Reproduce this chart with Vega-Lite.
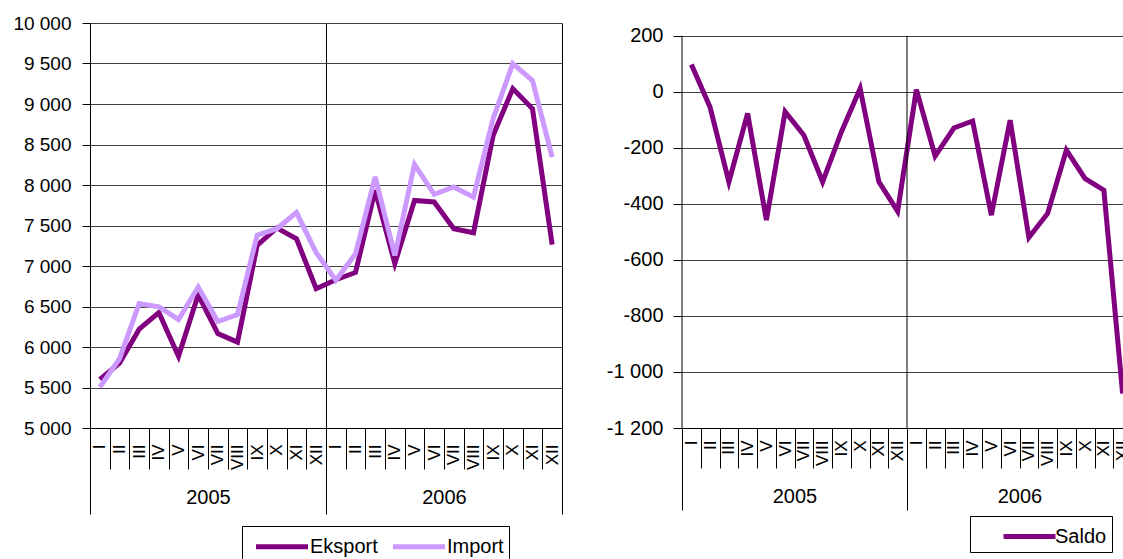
{
  "$schema": "https://vega.github.io/schema/vega-lite/v6.json",
  "padding": {"left": 12, "top": 14, "right": 0, "bottom": 0},
  "spacing": 43,
  "resolve": {"scale": {"color": "independent"}, "legend": {"color": "independent"}},
  "config": {
    "font": "Liberation Sans",
    "view": {"stroke": null},
    "locale": {"number": {"decimal": ",", "thousands": " ", "grouping": [3], "currency": ["", ""], "minus": "-"}},
    "axis": {"domainColor": "#000", "tickColor": "#000", "labelColor": "#000", "title": null, "domainWidth": 1, "tickWidth": 1}
  },
  "datasets": {
    "trade": [
      {"year": "2005", "key": "2005 I", "series": "Eksport", "value": 5600},
      {"year": "2005", "key": "2005 II", "series": "Eksport", "value": 5800},
      {"year": "2005", "key": "2005 III", "series": "Eksport", "value": 6220},
      {"year": "2005", "key": "2005 IV", "series": "Eksport", "value": 6425},
      {"year": "2005", "key": "2005 V", "series": "Eksport", "value": 5885},
      {"year": "2005", "key": "2005 VI", "series": "Eksport", "value": 6645},
      {"year": "2005", "key": "2005 VII", "series": "Eksport", "value": 6165},
      {"year": "2005", "key": "2005 VIII", "series": "Eksport", "value": 6060},
      {"year": "2005", "key": "2005 IX", "series": "Eksport", "value": 7255},
      {"year": "2005", "key": "2005 X", "series": "Eksport", "value": 7470},
      {"year": "2005", "key": "2005 XI", "series": "Eksport", "value": 7335},
      {"year": "2005", "key": "2005 XII", "series": "Eksport", "value": 6720},
      {"year": "2006", "key": "2006 I", "series": "Eksport", "value": 6830},
      {"year": "2006", "key": "2006 II", "series": "Eksport", "value": 6920},
      {"year": "2006", "key": "2006 III", "series": "Eksport", "value": 7935},
      {"year": "2006", "key": "2006 IV", "series": "Eksport", "value": 7030},
      {"year": "2006", "key": "2006 V", "series": "Eksport", "value": 7810},
      {"year": "2006", "key": "2006 VI", "series": "Eksport", "value": 7790},
      {"year": "2006", "key": "2006 VII", "series": "Eksport", "value": 7460},
      {"year": "2006", "key": "2006 VIII", "series": "Eksport", "value": 7410},
      {"year": "2006", "key": "2006 IX", "series": "Eksport", "value": 8615},
      {"year": "2006", "key": "2006 X", "series": "Eksport", "value": 9190},
      {"year": "2006", "key": "2006 XI", "series": "Eksport", "value": 8940},
      {"year": "2006", "key": "2006 XII", "series": "Eksport", "value": 7265},
      {"year": "2005", "key": "2005 I", "series": "Import", "value": 5505},
      {"year": "2005", "key": "2005 II", "series": "Import", "value": 5855},
      {"year": "2005", "key": "2005 III", "series": "Import", "value": 6535},
      {"year": "2005", "key": "2005 IV", "series": "Import", "value": 6495},
      {"year": "2005", "key": "2005 V", "series": "Import", "value": 6340},
      {"year": "2005", "key": "2005 VI", "series": "Import", "value": 6740},
      {"year": "2005", "key": "2005 VII", "series": "Import", "value": 6315},
      {"year": "2005", "key": "2005 VIII", "series": "Import", "value": 6400},
      {"year": "2005", "key": "2005 IX", "series": "Import", "value": 7380},
      {"year": "2005", "key": "2005 X", "series": "Import", "value": 7460},
      {"year": "2005", "key": "2005 XI", "series": "Import", "value": 7660},
      {"year": "2005", "key": "2005 XII", "series": "Import", "value": 7165},
      {"year": "2006", "key": "2006 I", "series": "Import", "value": 6825},
      {"year": "2006", "key": "2006 II", "series": "Import", "value": 7150},
      {"year": "2006", "key": "2006 III", "series": "Import", "value": 8100},
      {"year": "2006", "key": "2006 IV", "series": "Import", "value": 7130},
      {"year": "2006", "key": "2006 V", "series": "Import", "value": 8255},
      {"year": "2006", "key": "2006 VI", "series": "Import", "value": 7885},
      {"year": "2006", "key": "2006 VII", "series": "Import", "value": 7975},
      {"year": "2006", "key": "2006 VIII", "series": "Import", "value": 7850},
      {"year": "2006", "key": "2006 IX", "series": "Import", "value": 8820},
      {"year": "2006", "key": "2006 X", "series": "Import", "value": 9500},
      {"year": "2006", "key": "2006 XI", "series": "Import", "value": 9290},
      {"year": "2006", "key": "2006 XII", "series": "Import", "value": 8345}
    ],
    "saldo": [
      {"year": "2005", "key": "2005 I", "series": "Saldo", "value": 98},
      {"year": "2005", "key": "2005 II", "series": "Saldo", "value": -55},
      {"year": "2005", "key": "2005 III", "series": "Saldo", "value": -321},
      {"year": "2005", "key": "2005 IV", "series": "Saldo", "value": -77},
      {"year": "2005", "key": "2005 V", "series": "Saldo", "value": -458},
      {"year": "2005", "key": "2005 VI", "series": "Saldo", "value": -71},
      {"year": "2005", "key": "2005 VII", "series": "Saldo", "value": -155},
      {"year": "2005", "key": "2005 VIII", "series": "Saldo", "value": -321},
      {"year": "2005", "key": "2005 IX", "series": "Saldo", "value": -143},
      {"year": "2005", "key": "2005 X", "series": "Saldo", "value": 12},
      {"year": "2005", "key": "2005 XI", "series": "Saldo", "value": -321},
      {"year": "2005", "key": "2005 XII", "series": "Saldo", "value": -426},
      {"year": "2006", "key": "2006 I", "series": "Saldo", "value": 8},
      {"year": "2006", "key": "2006 II", "series": "Saldo", "value": -229},
      {"year": "2006", "key": "2006 III", "series": "Saldo", "value": -129},
      {"year": "2006", "key": "2006 IV", "series": "Saldo", "value": -104},
      {"year": "2006", "key": "2006 V", "series": "Saldo", "value": -440},
      {"year": "2006", "key": "2006 VI", "series": "Saldo", "value": -101},
      {"year": "2006", "key": "2006 VII", "series": "Saldo", "value": -520},
      {"year": "2006", "key": "2006 VIII", "series": "Saldo", "value": -434},
      {"year": "2006", "key": "2006 IX", "series": "Saldo", "value": -208},
      {"year": "2006", "key": "2006 X", "series": "Saldo", "value": -310},
      {"year": "2006", "key": "2006 XI", "series": "Saldo", "value": -351},
      {"year": "2006", "key": "2006 XII", "series": "Saldo", "value": -1077}
    ]
  },
  "hconcat": [
    {
      "width": 472,
      "height": 405,
      "layer": [
        {
          "data": {"name": "trade"},
          "mark": {"type": "line", "strokeWidth": 5, "clip": false},
          "encoding": {
            "x": {
              "field": "key", "type": "ordinal", "sort": null, "bandPosition": 0.5,
              "scale": {"type": "band", "paddingInner": 0, "paddingOuter": 0},
              "axis": {"orient": "bottom", "tickBand": "extent", "tickSize": 41, "labelAngle": 270, "labelPadding": -25, "labelFontSize": 17, "labelExpr": "split(datum.value, ' ')[1]", "labelOverlap": false, "grid": false}
            },
            "y": {
              "field": "value", "type": "quantitative",
              "scale": {"domain": [5000, 10000], "nice": false, "zero": false},
              "axis": {"values": [5000, 5500, 6000, 6500, 7000, 7500, 8000, 8500, 9000, 9500, 10000], "format": ",d", "tickSize": 8, "labelPadding": 11, "labelFontSize": 19, "grid": true, "gridColor": "#404040", "gridOpacity": 1}
            },
            "color": {
              "field": "series", "type": "nominal",
              "scale": {"domain": ["Eksport", "Import"], "range": ["#800080", "#CC99FF"]},
              "legend": {"orient": "none", "legendX": 152, "legendY": 503, "direction": "horizontal", "title": null, "strokeColor": "#000", "fillColor": "#fff", "padding": 5, "symbolType": "M-0.5,0H3.5", "symbolSize": 676, "symbolStrokeWidth": 5, "labelFontSize": 20, "labelColor": "#000", "labelOffset": 32, "columnPadding": 5}
            }
          }
        },
        {
          "data": {"name": "trade"},
          "mark": {"type": "rule", "strokeOpacity": 0},
          "encoding": {
            "x": {
              "field": "year", "type": "ordinal",
              "scale": {"type": "band", "paddingInner": 0, "paddingOuter": 0},
              "axis": {"orient": "bottom", "tickBand": "extent", "tickSize": 86, "labelPadding": -27, "labelFontSize": 20, "labelAngle": 0, "grid": true, "gridColor": "#000", "gridOpacity": 1, "domain": false}
            }
          }
        }
      ],
      "resolve": {"scale": {"x": "independent"}, "axis": {"x": "independent"}}
    },
    {
      "width": 450,
      "height": 405,
      "layer": [
        {
          "data": {"name": "saldo"},
          "mark": {"type": "line", "strokeWidth": 5, "clip": false},
          "encoding": {
            "x": {
              "field": "key", "type": "ordinal", "sort": null, "bandPosition": 0.5,
              "scale": {"type": "band", "paddingInner": 0, "paddingOuter": 0},
              "axis": {"orient": "bottom", "tickBand": "extent", "tickSize": 40, "labelAngle": 270, "labelPadding": -28, "labelFontSize": 17, "labelExpr": "split(datum.value, ' ')[1]", "labelOverlap": false, "grid": false}
            },
            "y": {
              "field": "value", "type": "quantitative",
              "scale": {"domain": [-1200, 246], "nice": false, "zero": false},
              "axis": {"values": [-1200, -1000, -800, -600, -400, -200, 0, 200], "format": ",d", "tickSize": 9, "labelPadding": 10, "labelFontSize": 20, "grid": true, "gridColor": "#404040", "gridOpacity": 1, "domain": false}
            },
            "color": {
              "field": "series", "type": "nominal",
              "scale": {"domain": ["Saldo"], "range": ["#800080"]},
              "legend": {"orient": "none", "legendX": 288, "legendY": 493, "direction": "horizontal", "title": null, "strokeColor": "#000", "fillColor": "#fff", "padding": 5, "symbolType": "M1,0H5", "symbolSize": 676, "symbolStrokeWidth": 5, "labelFontSize": 20, "labelColor": "#000", "labelOffset": 49}
            }
          }
        },
        {
          "data": {"name": "saldo"},
          "transform": [{"aggregate": [], "groupby": ["year"]}],
          "mark": {"type": "rule", "color": "#000", "strokeWidth": 1},
          "encoding": {
            "x": {
              "field": "year", "type": "ordinal", "bandPosition": 0,
              "scale": {"type": "band", "paddingInner": 0, "paddingOuter": 0},
              "axis": {"orient": "bottom", "tickBand": "extent", "tickSize": 82, "labelPadding": -24, "labelFontSize": 20, "labelAngle": 0, "grid": false, "domain": false}
            },
            "y": {"datum": -1200, "type": "quantitative"},
            "y2": {"datum": 200}
          }
        }
      ],
      "resolve": {"scale": {"x": "independent"}, "axis": {"x": "independent"}}
    }
  ]
}
